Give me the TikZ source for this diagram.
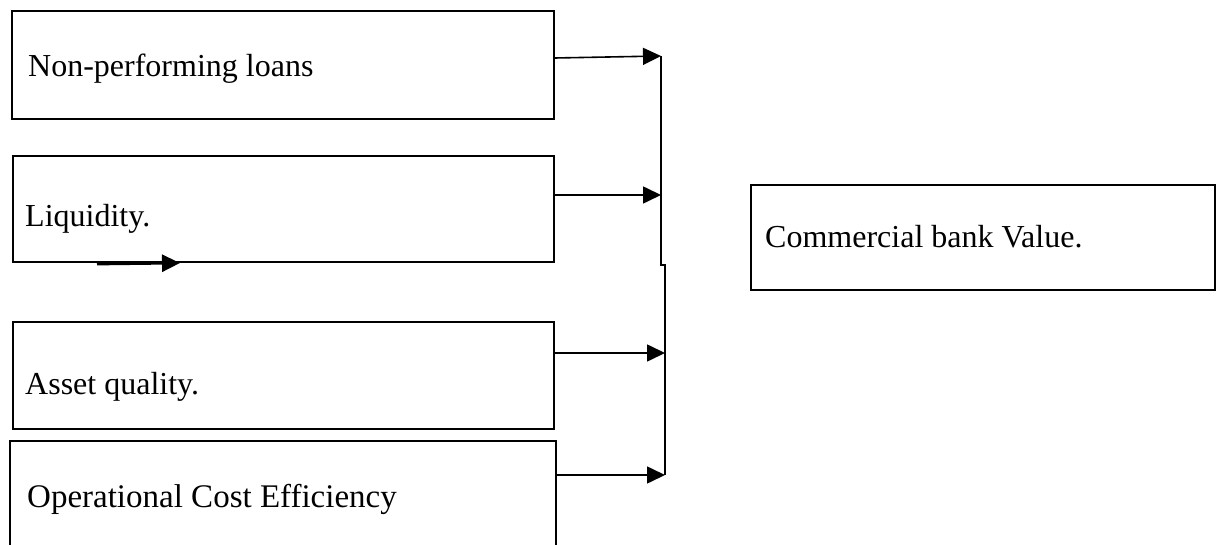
\documentclass[tikz,border=0pt]{standalone}
\usepackage{fontspec}
\setmainfont{Liberation Serif}
\usetikzlibrary{arrows.meta}
\begin{document}
\begin{tikzpicture}[x=1pt,y=-1pt,
  boxstyle/.style={draw,line width=1.8pt,inner sep=0pt,anchor=north west},
  lbl/.style={anchor=base west,inner sep=0pt,font=\fontsize{32}{38}\selectfont},
  arr/.style={line width=1.6pt,-{Triangle[length=18pt,width=17pt]}},
  bus/.style={line width=1.8pt}]
\fill[white] (0,0) rectangle (1218,545);
\useasboundingbox (0,0) rectangle (1218,545);
\node[boxstyle,minimum width=542pt,minimum height=108pt] (b1) at (11,10) {};
\node[boxstyle,minimum width=541pt,minimum height=106pt] (b2) at (12,155) {};
\node[boxstyle,minimum width=541pt,minimum height=107pt] (b3) at (12,321) {};
\node[boxstyle,minimum width=546pt,minimum height=130pt] (b4) at (9,440) {};
\node[boxstyle,minimum width=464pt,minimum height=105pt] (bc) at (750,184) {};
\node[lbl] (t1) at (28,77) {Non-performing loans};
\node[lbl] (t2) at (25,227) {Liquidity.};
\node[lbl] (t3) at (25,394) {Asset quality.};
\node[lbl,font=\fontsize{33}{39}\selectfont] (t4) at (27,507) {Operational Cost Efficiency};
\node[lbl] (tc) at (765,248) {Commercial bank Value.};
% bus line
\coordinate (p1) at (661,56);
\coordinate (p2) at (661,195);
\coordinate (pk1) at (661,265);
\coordinate (pk2) at (665,265);
\coordinate (p3) at (665,353);
\coordinate (p4) at (665,475);
\draw[bus] (p1) -- (pk1) -- (pk2) -- (p4);
% arrows
\coordinate (s1) at (b1.east |- 0,58);
\coordinate (s2) at (b2.east |- 0,195);
\coordinate (s3) at (b3.east |- 0,353);
\coordinate (s4) at (b4.east |- 0,475);
\draw[arr] (s1) -- (p1);
\draw[arr] (s2) -- (p2);
\draw[arr] (s3) -- (p3);
\draw[arr] (s4) -- (p4);
% small stray arrow
\coordinate (m1) at (97,264);
\coordinate (m2) at (180,263);
\draw[line width=2.8pt,-{Triangle[length=18pt,width=17pt]}] (m1) -- (m2);
\end{tikzpicture}
\end{document}
